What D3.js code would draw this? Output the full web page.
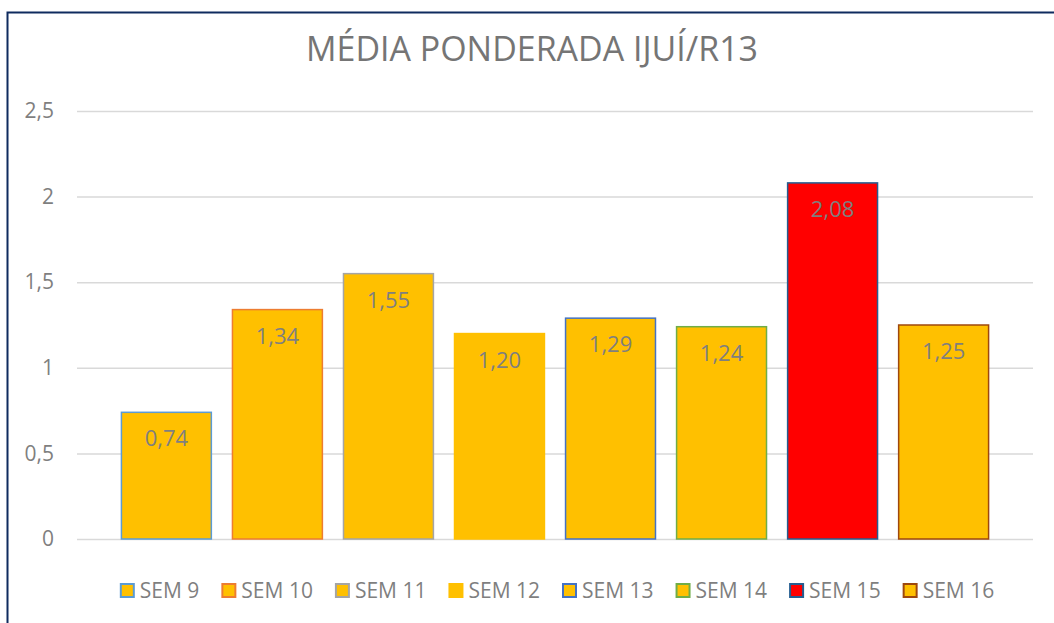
<!DOCTYPE html>
<html>
<head>
<meta charset="utf-8">
<script src="https://cdn.jsdelivr.net/npm/d3@7"></script>
<style>
  body { margin: 0; background: #fff; }
  text { font-family: "Open Sans", sans-serif; }
</style>
</head>
<body>
<div class="bar-chart"></div>
<script>
'use strict'

// Data.
let categories = ['SEM 9', 'SEM 10', 'SEM 11', 'SEM 12', 'SEM 13', 'SEM 14', 'SEM 15', 'SEM 16'];
let values = [0.74, 1.34, 1.55, 1.20, 1.29, 1.24, 2.08, 1.25];
let fills = ['#FFC000', '#FFC000', '#FFC000', '#FFC000', '#FFC000', '#FFC000', '#FF0000', '#FFC000'];
let strokes = ['#5B9BD5', '#ED7D31', '#A5A5A5', '#FFC000', '#4472C4', '#70AD47', '#255E91', '#9E480E'];
let yTicks = [0, 0.5, 1, 1.5, 2, 2.5];
let title = 'MÉDIA PONDERADA IJUÍ/R13';

let data = categories.map((c, i) => ({
    name: c, value: values[i], fill: fills[i], stroke: strokes[i]
}));

// Dimensions.
let width = 1054,
    height = 623,
    plot = {left: 77, right: 1033, top: 111, bottom: 539};

let ptBR = d3.formatLocale({decimal: ',', thousands: '.', grouping: [3], currency: ['R$', '']});
let tickFmt = ptBR.format('~g'),
    labelFmt = ptBR.format('.2f');

let svg = d3.select('.bar-chart')
    .append('svg')
    .attr('width', width)
    .attr('height', height);

// Outer chart border (runs off the right and bottom edges).
svg.append('rect')
    .attr('x', 7.5).attr('y', 12.5)
    .attr('width', 1100).attr('height', 700)
    .attr('fill', '#fff')
    .attr('stroke', '#0F2B5F')
    .attr('stroke-width', 2);

// Scales.
let x = d3.scaleBand()
    .domain(categories)
    .range([plot.left, plot.right])
    .paddingInner(0.19)
    .paddingOuter(0.4);

let y = d3.scaleLinear()
    .domain([0, 2.5])
    .range([plot.bottom, plot.top]);

// Y axis with gridlines.
let yAxis = d3.axisLeft(y)
    .tickValues(yTicks)
    .tickSize(-(plot.right - plot.left))
    .tickPadding(23)
    .tickFormat(d => tickFmt(d));

let gy = svg.append('g')
    .attr('class', 'axis yAxis')
    .attr('transform', `translate(${plot.left},0)`)
    .call(yAxis);
gy.select('.domain').remove();
gy.selectAll('.tick line').attr('stroke', '#D9D9D9').attr('stroke-width', 1.5);
gy.selectAll('.tick text')
    .attr('fill', '#7F7F7F')
    .style('font-size', '21px');

// Title, fitted to the width it has in the picture.
let t = svg.append('text')
    .attr('x', 532)
    .attr('y', 61)
    .attr('text-anchor', 'middle')
    .attr('fill', '#757575')
    .style('font-size', '30px')
    .text(title);
let tw = t.node().getComputedTextLength();
t.style('font-size', (30 * 452 / tw) + 'px');

// Bars.
svg.append('g')
    .attr('class', 'bars')
    .selectAll('rect')
    .data(data)
    .join('rect')
    .attr('x', d => x(d.name))
    .attr('y', d => y(d.value))
    .attr('width', x.bandwidth())
    .attr('height', d => y(0) - y(d.value))
    .attr('fill', d => d.fill)
    .attr('stroke', d => d.stroke)
    .attr('stroke-width', 1.5);

// Value labels inside the top of each bar.
svg.append('g')
    .attr('class', 'valueLabels')
    .selectAll('text')
    .data(data)
    .join('text')
    .attr('x', d => x(d.name) + x.bandwidth() / 2)
    .attr('y', d => y(d.value) + 34)
    .attr('text-anchor', 'middle')
    .attr('fill', '#7F7F7F')
    .style('font-size', '22px')
    .text(d => labelFmt(d.value));

// Legend, centred under the plot.
let legend = svg.append('g').attr('class', 'legend');
let items = legend.selectAll('g')
    .data(data)
    .join('g');
items.append('rect')
    .attr('x', 1).attr('y', 584)
    .attr('width', 13).attr('height', 13)
    .attr('fill', d => d.fill)
    .attr('stroke', d => d.stroke)
    .attr('stroke-width', 2);
items.append('text')
    .attr('x', 20)
    .attr('y', 598)
    .attr('fill', '#7F7F7F')
    .style('font-size', '21px')
    .text(d => d.name);

let gap = 22, offsets = [], cursor = 0;
items.each(function () {
    offsets.push(cursor);
    cursor += 20 + d3.select(this).select('text').node().getComputedTextLength() + gap;
});
let total = cursor - gap,
    start = 557 - total / 2;
items.attr('transform', (d, i) => `translate(${start + offsets[i]},0)`);
</script>
</body>
</html>
